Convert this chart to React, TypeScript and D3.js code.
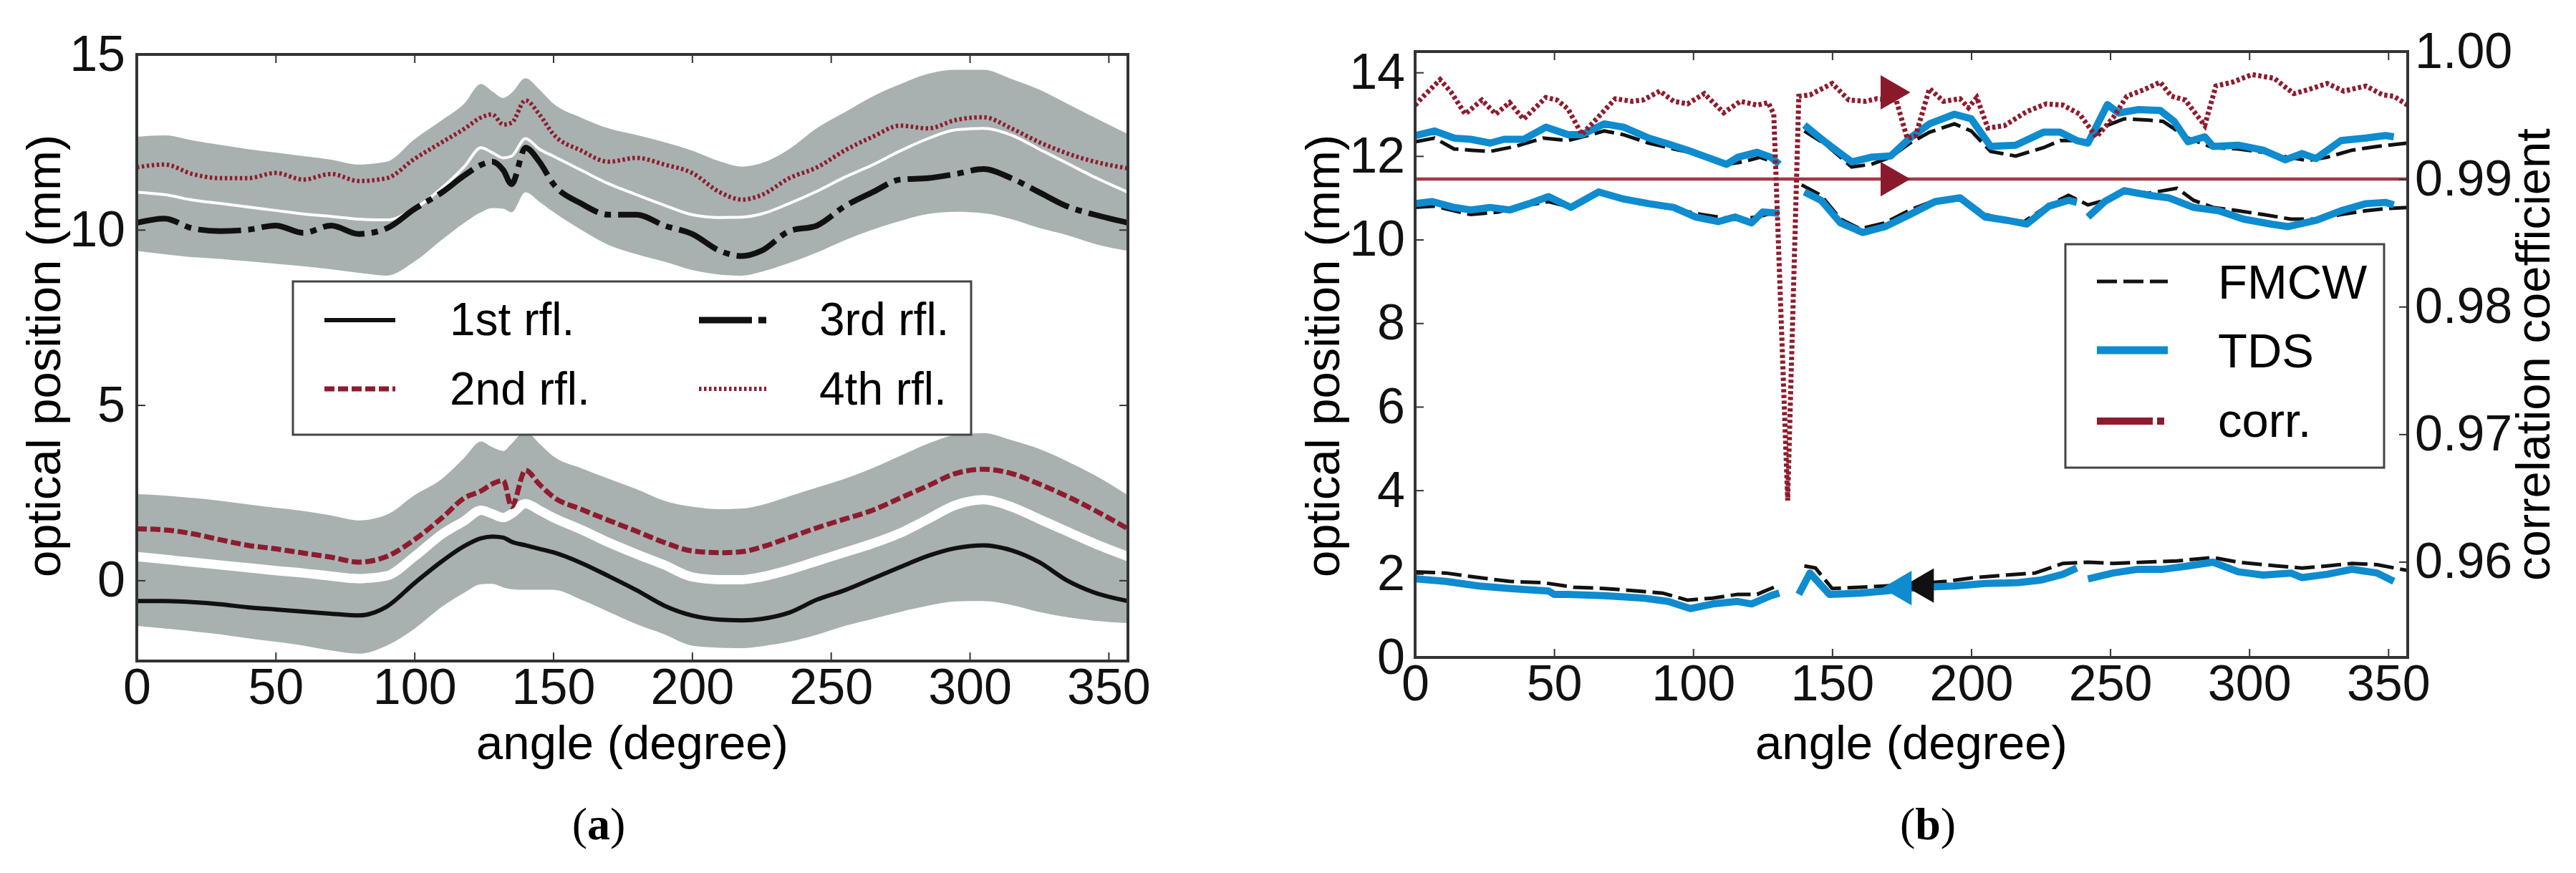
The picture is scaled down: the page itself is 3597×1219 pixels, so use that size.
import { useEffect, useRef } from "react";
import * as d3 from "d3";

// ---------- panel (a): reflections vs angle ----------
const anglesA = [0, 10, 20, 30, 40, 50, 60, 70, 80, 90, 100, 110, 118, 124, 128, 132, 135, 140, 145, 150, 160, 170, 180, 190, 200, 210, 218, 225, 235, 245, 255, 265, 275, 285, 295, 305, 315, 325, 335, 345, 357];
const rfl1 = [-0.59, -0.59, -0.62, -0.68, -0.77, -0.83, -0.89, -0.95, -1.0, -0.75, -0.08, 0.55, 0.98, 1.2, 1.25, 1.22, 1.1, 1.0, 0.9, 0.8, 0.5, 0.12, -0.28, -0.72, -1.0, -1.12, -1.14, -1.1, -0.92, -0.55, -0.28, 0.05, 0.38, 0.7, 0.92, 1.0, 0.86, 0.52, 0.0, -0.35, -0.59];
const rfl2 = [1.47, 1.44, 1.33, 1.16, 1.0, 0.9, 0.78, 0.66, 0.52, 0.68, 1.16, 1.79, 2.35, 2.55, 2.75, 2.85, 2.1, 3.14, 2.74, 2.38, 2.03, 1.71, 1.4, 1.08, 0.84, 0.79, 0.82, 0.95, 1.22, 1.5, 1.75, 2.0, 2.35, 2.7, 3.05, 3.17, 3.05, 2.75, 2.4, 2.0, 1.47];
const rfl3 = [10.2, 10.32, 10.04, 9.96, 10.0, 10.12, 9.91, 10.12, 9.88, 10.04, 10.59, 11.07, 11.55, 11.85, 11.94, 11.7, 11.3, 12.34, 11.94, 11.31, 10.75, 10.43, 10.43, 10.12, 9.88, 9.4, 9.25, 9.4, 9.96, 10.12, 10.67, 11.07, 11.43, 11.47, 11.59, 11.73, 11.47, 11.07, 10.67, 10.43, 10.2];
const rfl4 = [11.78, 11.86, 11.59, 11.47, 11.47, 11.62, 11.43, 11.59, 11.39, 11.47, 12.02, 12.5, 12.88, 13.2, 13.29, 13.0, 13.05, 13.69, 13.29, 12.73, 12.26, 11.94, 12.05, 11.86, 11.62, 11.07, 10.86, 10.99, 11.47, 11.78, 12.26, 12.65, 12.97, 12.89, 13.13, 13.21, 12.89, 12.5, 12.18, 11.94, 11.75];

// grey envelopes and the white gap between the two bands of each group
const upperTop = [12.65, 12.69, 12.55, 12.42, 12.3, 12.2, 12.1, 12.0, 11.86, 11.94, 12.58, 13.13, 13.6, 14.16, 13.95, 13.76, 13.9, 14.32, 14.0, 13.6, 13.2, 12.89, 12.7, 12.5, 12.26, 11.95, 11.8, 11.9, 12.3, 12.9, 13.35, 13.8, 14.15, 14.45, 14.56, 14.56, 14.3, 14.0, 13.6, 13.2, 12.73];
const upperBottom = [9.4, 9.3, 9.22, 9.17, 9.1, 9.03, 8.96, 8.87, 8.77, 8.69, 9.09, 9.72, 10.2, 10.5, 10.62, 10.6, 10.5, 11.07, 10.8, 10.51, 10.0, 9.56, 9.3, 9.09, 8.85, 8.72, 8.69, 8.8, 9.05, 9.35, 9.7, 10.0, 10.25, 10.45, 10.51, 10.47, 10.3, 10.05, 9.85, 9.6, 9.4];
const upperGap = [11.07, 11.0, 10.85, 10.75, 10.65, 10.55, 10.45, 10.38, 10.3, 10.28, 10.6, 11.2, 11.8, 12.34, 12.2, 12.05, 12.1, 12.6, 12.3, 12.1, 11.7, 11.31, 11.0, 10.7, 10.43, 10.35, 10.36, 10.45, 10.75, 11.1, 11.5, 11.85, 12.25, 12.6, 12.85, 12.89, 12.7, 12.3, 11.9, 11.5, 11.07];
const lowerTop = [2.46, 2.42, 2.35, 2.27, 2.17, 2.07, 1.98, 1.85, 1.71, 1.87, 2.43, 2.9, 3.5, 3.96, 3.8, 3.69, 3.9, 4.25, 3.9, 3.54, 3.2, 2.9, 2.6, 2.27, 2.1, 2.03, 2.05, 2.15, 2.4, 2.65, 2.9, 3.2, 3.55, 3.9, 4.15, 4.2, 4.0, 3.75, 3.4, 3.0, 2.43];
const lowerBottom = [-1.3, -1.37, -1.45, -1.54, -1.65, -1.75, -1.86, -2.0, -2.09, -1.86, -1.38, -0.75, -0.35, -0.11, -0.1, -0.2, -0.25, -0.27, -0.27, -0.27, -0.55, -0.9, -1.25, -1.54, -1.86, -1.92, -1.93, -1.88, -1.75, -1.55, -1.3, -1.1, -0.9, -0.72, -0.6, -0.59, -0.7, -0.9, -1.05, -1.15, -1.22];
const lowerGap = [0.68, 0.6, 0.52, 0.44, 0.36, 0.28, 0.21, 0.12, 0.05, 0.13, 0.68, 1.32, 1.7, 2.0, 1.9, 1.79, 1.9, 2.19, 2.0, 1.79, 1.45, 1.08, 0.75, 0.44, 0.1, 0.02, 0.02, 0.1, 0.3, 0.55, 0.8, 1.05, 1.35, 1.75, 2.15, 2.3, 2.1, 1.75, 1.4, 1.05, 0.68];

const legendA = ["1st rfl.", "2nd rfl.", "3rd rfl.", "4th rfl."];

// ---------- panel (b): FMCW vs TDS, correlation ----------
// null marks a break in a line
const fmcwHiAngles = [0, 7, 14, 20, 27, 36, 46, 55, 62, 68, 75, 84, 93, 103, 112, 118, 124, 130, null, 140, 148, 157, 164, 171, 178, 185, 194, 200, 207, 216, 226, 232, 242, 248, 255, 264, 269, 278, 287, 296, 305, 314, 321, 328, 337, 346, 357];
const fmcwHi = [12.34, 12.43, 12.17, 12.14, 12.11, 12.23, 12.43, 12.37, 12.49, 12.6, 12.51, 12.31, 12.17, 12.03, 11.8, 11.86, 11.97, 11.83, null, 12.6, 12.26, 11.74, 11.8, 11.97, 12.31, 12.57, 12.77, 12.6, 12.11, 12.0, 12.2, 12.37, 12.37, 12.71, 12.89, 12.86, 12.83, 12.43, 12.2, 12.17, 12.09, 11.97, 11.89, 11.97, 12.14, 12.23, 12.31];
const tdsHiAngles = [0, 7, 14, 20, 27, 32, 39, 47, 55, 60, 68, 75, 84, 91, 98, 105, 112, 116, 123, 128, 131, null, 140, 148, 157, 164, 171, 178, 185, 194, 200, 207, 216, 226, 232, 238, 242, 249, 253, 260, 268, 273, 278, 284, 287, 296, 305, 313, 319, 324, 333, 342, 349, 352];
const tdsHi = [12.49, 12.6, 12.43, 12.4, 12.31, 12.4, 12.4, 12.69, 12.51, 12.51, 12.77, 12.69, 12.43, 12.29, 12.14, 11.97, 11.8, 11.97, 12.09, 11.97, 11.8, null, 12.74, 12.31, 11.86, 11.97, 12.0, 12.43, 12.77, 13.0, 12.89, 12.23, 12.26, 12.57, 12.57, 12.37, 12.31, 13.23, 13.03, 13.11, 13.09, 12.83, 12.34, 12.46, 12.23, 12.26, 12.14, 11.91, 12.06, 11.94, 12.37, 12.43, 12.49, 12.46];
const fmcwMidAngles = [0, 7, 14, 20, 30, 36, 48, 56, 66, 75, 84, 93, 103, 109, 116, 123, 130, null, 139, 146, 153, 160, 169, 178, 187, 196, 205, 212, 219, 228, 235, 242, 248, 255, 264, 274, 280, 287, 296, 305, 315, 324, 333, 342, 349, 357];
const fmcwMid = [10.77, 10.8, 10.69, 10.6, 10.66, 10.77, 10.91, 10.77, 11.11, 10.94, 10.83, 10.74, 10.6, 10.54, 10.49, 10.54, 10.66, null, 11.31, 11.06, 10.49, 10.26, 10.4, 10.71, 10.94, 11.03, 10.6, 10.49, 10.43, 10.83, 11.06, 10.83, 10.94, 11.17, 11.11, 11.23, 10.94, 10.77, 10.69, 10.6, 10.49, 10.49, 10.6, 10.69, 10.74, 10.77];
const tdsMidAngles = [0, 6, 14, 20, 27, 34, 41, 48, 56, 66, 75, 84, 93, 101, 109, 115, 121, 125, 131, null, 140, 146, 153, 161, 169, 178, 187, 196, 205, 213, 220, 228, 235, 238, null, 242, 248, 255, 264, 271, 280, 289, 298, 308, 314, 324, 333, 342, 349, 352];
const tdsMid = [10.86, 10.91, 10.77, 10.71, 10.77, 10.71, 10.86, 11.03, 10.77, 11.14, 10.97, 10.86, 10.77, 10.54, 10.43, 10.54, 10.4, 10.66, 10.63, null, 11.14, 10.94, 10.4, 10.17, 10.31, 10.6, 10.91, 11.0, 10.54, 10.46, 10.37, 10.8, 10.94, 10.89, null, 10.54, 10.91, 11.17, 11.06, 11.0, 10.77, 10.69, 10.49, 10.37, 10.31, 10.46, 10.69, 10.86, 10.89, 10.83];
const fmcwLoAngles = [0, 11, 23, 34, 46, 57, 68, 80, 89, 98, 107, 116, 123, 129, null, 140, 144, 150, 160, 169, 182, 191, 201, 212, 223, 233, 242, 251, 262, 274, 287, 296, 310, 319, 328, 337, 346, 357];
const fmcwLo = [2.05, 2.02, 1.91, 1.82, 1.79, 1.68, 1.65, 1.59, 1.54, 1.37, 1.42, 1.51, 1.51, 1.68, null, 2.19, 2.14, 1.65, 1.68, 1.71, 1.77, 1.82, 1.91, 1.97, 2.02, 2.25, 2.28, 2.25, 2.28, 2.31, 2.39, 2.28, 2.19, 2.14, 2.19, 2.25, 2.22, 2.08];
const tdsLoAngles = [0, 11, 23, 34, 48, 50, 55, 68, 82, 91, 99, 107, 116, 121, 128, 131, null, 138, 142, 149, 160, 169, 182, 194, 205, 217, 225, 233, 238, null, 242, 251, 260, 269, 278, 287, 296, 305, 315, 319, 328, 337, 346, 352];
const tdsLo = [1.88, 1.82, 1.71, 1.65, 1.59, 1.51, 1.51, 1.48, 1.42, 1.34, 1.17, 1.28, 1.34, 1.28, 1.48, 1.54, null, 1.51, 2.02, 1.51, 1.54, 1.59, 1.68, 1.71, 1.77, 1.79, 1.85, 1.99, 2.14, null, 1.88, 2.02, 2.11, 2.11, 2.19, 2.28, 2.05, 1.97, 2.02, 1.91, 1.99, 2.11, 2.02, 1.82];
const corrAngles = [0, 3, 9, 13, 18, 24, 29, 34, 39, 47, 51, 55, 60, 66, 72, 78, 82, 88, 93, 98, 104, 111, 117, 123, 127, 129, 134, 138, 142, 150, 156, 162, 166, 173, 177, 180, 185, 190, 196, 199, 202, 206, 212, 220, 227, 233, 239, 245, 251, 256, 262, 268, 272, 277, 284, 288, 294, 301, 309, 316, 321, 328, 334, 342, 348, 352, 357];
const corr = [0.9958, 0.9965, 0.9978, 0.9968, 0.9951, 0.9962, 0.9951, 0.996, 0.9947, 0.9964, 0.9962, 0.9955, 0.9935, 0.9949, 0.9963, 0.9961, 0.9962, 0.9969, 0.9961, 0.9959, 0.9967, 0.9952, 0.9961, 0.9958, 0.996, 0.9951, 0.9648, 0.9965, 0.9966, 0.9975, 0.9962, 0.9961, 0.9963, 0.9962, 0.9932, 0.9934, 0.9971, 0.9961, 0.9963, 0.9956, 0.9964, 0.994, 0.9942, 0.9953, 0.9959, 0.9958, 0.9951, 0.9933, 0.9948, 0.9965, 0.997, 0.9976, 0.9965, 0.9962, 0.9942, 0.9973, 0.9976, 0.9982, 0.9979, 0.9967, 0.997, 0.9975, 0.9969, 0.9973, 0.9966, 0.9965, 0.9958];
const corrRef = 0.99;
const corrMarkerAngles = [171, 171];
const corrMarkerValues = [0.9968, 0.99];
const fmcwMarker = [183, 1.72];
const tdsMarker = [175, 1.66];

const legendB = ["FMCW", "TDS", "corr."];

const xTicks = [0, 50, 100, 150, 200, 250, 300, 350];
const yTicksA = [0, 5, 10, 15];
const yTicksB = [0, 2, 4, 6, 8, 10, 12, 14];
const corrTicks = [0.96, 0.97, 0.98, 0.99, 1.0];

const FONT = "'Liberation Sans', Arial, Helvetica, sans-serif";
const RED = "#8e1c2e";
const BLUE = "#0f8bcf";
const GREY = "#a8b1b0";
const INK = "#333";

type Sel = d3.Selection<SVGGElement, unknown, null, undefined>;

function styleAxis(ax: Sel, fontSize: number) {
  ax.select(".domain").remove();
  ax.selectAll(".tick line").attr("stroke", INK).attr("stroke-width", 2);
  ax.selectAll(".tick text")
    .attr("fill", "#111")
    .style("font-family", FONT)
    .style("font-size", `${fontSize}px`);
}

function zipPts(angles: (number | null)[], values: (number | null)[]) {
  return angles.map((a, i) => ({ a, v: values[i] }));
}

export default function App() {
  const svgRef = useRef<SVGSVGElement | null>(null);

  useEffect(() => {
    const svg = d3.select(svgRef.current);
    svg.selectAll("*").remove();

    // ================= panel (a) =================
    const xA = d3.scaleLinear().domain([0, 357]).range([191, 1575]);
    const yA = d3.scaleLinear().domain([-2.3, 15]).range([923, 76]);

    svg.append("clipPath").attr("id", "clipA")
      .append("rect").attr("x", 191).attr("y", 76).attr("width", 1384).attr("height", 847);

    const gA = svg.append("g").attr("clip-path", "url(#clipA)");

    const band = (lo: number[], hi: number[]) =>
      d3.area<number>()
        .x((a) => xA(a))
        .y0((_, i) => yA(lo[i]))
        .y1((_, i) => yA(hi[i]))
        .curve(d3.curveMonotoneX)(anglesA);

    const lineA = (vals: number[]) =>
      d3.line<number>()
        .x((a) => xA(a))
        .y((_, i) => yA(vals[i]))
        .curve(d3.curveMonotoneX)(anglesA);

    gA.append("path").attr("d", band(upperBottom, upperTop)).attr("fill", GREY);
    gA.append("path").attr("d", band(lowerBottom, lowerTop)).attr("fill", GREY);
    gA.append("path").attr("d", lineA(upperGap)).attr("fill", "none").attr("stroke", "#fff").attr("stroke-width", 4);
    gA.append("path").attr("d", lineA(lowerGap)).attr("fill", "none").attr("stroke", "#fff").attr("stroke-width", 13);

    const stylesA = [
      { vals: rfl1, color: "#111", width: 6, dash: null },
      { vals: rfl2, color: RED, width: 7, dash: "14,5" },
      { vals: rfl3, color: "#111", width: 8, dash: "60,10,9,10" },
      { vals: rfl4, color: RED, width: 6, dash: "3.5,3.5" },
    ];
    stylesA.forEach((s) => {
      gA.append("path")
        .attr("d", lineA(s.vals))
        .attr("fill", "none")
        .attr("stroke", s.color)
        .attr("stroke-width", s.width)
        .attr("stroke-dasharray", s.dash);
    });

    // legend (a)
    const lgA = svg.append("g");
    lgA.append("rect").attr("x", 409).attr("y", 393).attr("width", 947).attr("height", 214)
      .attr("fill", "#fff").attr("stroke", "#444").attr("stroke-width", 3);
    const legPosA = [
      { x0: 453, x1: 552, y: 447, tx: 628, ty: 468 },
      { x0: 453, x1: 552, y: 543, tx: 628, ty: 565 },
      { x0: 976, x1: 1070, y: 447, tx: 1144, ty: 468 },
      { x0: 976, x1: 1070, y: 543, tx: 1144, ty: 565 },
    ];
    const legDashA = [null, "14,5", "74,9,11,100", "3.5,3.5"];
    legendA.forEach((label, i) => {
      const p = legPosA[i];
      lgA.append("line").attr("x1", p.x0).attr("x2", p.x1).attr("y1", p.y).attr("y2", p.y)
        .attr("stroke", stylesA[i].color).attr("stroke-width", i === 2 ? 9 : stylesA[i].width)
        .attr("stroke-dasharray", legDashA[i]);
      lgA.append("text").attr("x", p.tx).attr("y", p.ty).text(label)
        .style("font-family", FONT).style("font-size", "64px").attr("fill", "#000");
    });

    // axes (a)
    const bA = svg.append("g").attr("transform", "translate(0,923)")
      .call(d3.axisBottom(xA).tickValues(xTicks).tickSize(-12).tickPadding(10).tickFormat(d3.format("d")));
    styleAxis(bA, 70);
    const tA = svg.append("g").attr("transform", "translate(0,76)")
      .call(d3.axisTop(xA).tickValues(xTicks).tickSize(-12).tickFormat(() => ""));
    styleAxis(tA, 70);
    const lA = svg.append("g").attr("transform", "translate(191,0)")
      .call(d3.axisLeft(yA).tickValues(yTicksA).tickSize(-12).tickPadding(16).tickFormat(d3.format("d")));
    styleAxis(lA, 70);
    const rA = svg.append("g").attr("transform", "translate(1575,0)")
      .call(d3.axisRight(yA).tickValues(yTicksA).tickSize(-12).tickFormat(() => ""));
    styleAxis(rA, 70);
    svg.append("rect").attr("x", 191).attr("y", 76).attr("width", 1384).attr("height", 847)
      .attr("fill", "none").attr("stroke", INK).attr("stroke-width", 4);

    // ================= panel (b) =================
    const xB = d3.scaleLinear().domain([0, 357]).range([1976, 3362]);
    const yB = d3.scaleLinear().domain([0, 14.5]).range([918, 72]);
    const cB = d3.scaleLinear().domain([0.9525, 1.0]).range([918, 72]);

    svg.append("clipPath").attr("id", "clipB")
      .append("rect").attr("x", 1976).attr("y", 72).attr("width", 1386).attr("height", 846);
    const gB = svg.append("g").attr("clip-path", "url(#clipB)");

    type P = { a: number | null; v: number | null };
    const lineB = (scale: d3.ScaleLinear<number, number>) =>
      d3.line<P>()
        .defined((d) => d.a !== null && d.v !== null)
        .x((d) => xB(d.a as number))
        .y((d) => scale(d.v as number));

    const fmcwSets = [zipPts(fmcwHiAngles, fmcwHi), zipPts(fmcwMidAngles, fmcwMid), zipPts(fmcwLoAngles, fmcwLo)];
    const tdsSets = [zipPts(tdsHiAngles, tdsHi), zipPts(tdsMidAngles, tdsMid), zipPts(tdsLoAngles, tdsLo)];

    fmcwSets.forEach((pts) => {
      gB.append("path").attr("d", lineB(yB)(pts)).attr("fill", "none")
        .attr("stroke", "#111").attr("stroke-width", 5).attr("stroke-dasharray", "28,9");
    });
    tdsSets.forEach((pts) => {
      gB.append("path").attr("d", lineB(yB)(pts)).attr("fill", "none")
        .attr("stroke", BLUE).attr("stroke-width", 10).attr("stroke-linejoin", "round");
    });

    // reference line and correlation on the right axis
    gB.append("line").attr("x1", xB(0)).attr("x2", xB(357)).attr("y1", cB(corrRef)).attr("y2", cB(corrRef))
      .attr("stroke", "#a33a47").attr("stroke-width", 4.5);
    gB.append("path").attr("d", lineB(cB)(zipPts(corrAngles, corr))).attr("fill", "none")
      .attr("stroke", RED).attr("stroke-width", 7).attr("stroke-dasharray", "4.5,3.5");

    // axis-pointer markers
    const tri = d3.symbol().type(d3.symbolTriangle).size(1000);
    gB.append("path").attr("d", tri()).attr("fill", "#111")
      .attr("transform", `translate(${xB(fmcwMarker[0])},${yB(fmcwMarker[1])}) rotate(-90)`);
    gB.append("path").attr("d", tri()).attr("fill", BLUE)
      .attr("transform", `translate(${xB(tdsMarker[0])},${yB(tdsMarker[1])}) rotate(-90)`);
    corrMarkerAngles.forEach((a, i) => {
      gB.append("path").attr("d", tri()).attr("fill", "#8a1a2b")
        .attr("transform", `translate(${xB(a)},${cB(corrMarkerValues[i])}) rotate(90)`);
    });

    // legend (b)
    const lgB = svg.append("g");
    lgB.append("rect").attr("x", 2884).attr("y", 341).attr("width", 445).attr("height", 312)
      .attr("fill", "#fff").attr("stroke", "#444").attr("stroke-width", 3);
    const legStyleB = [
      { color: "#111", width: 5, dash: "28,9", y: 393, ty: 417 },
      { color: BLUE, width: 11, dash: null, y: 489, ty: 513 },
      { color: RED, width: 10, dash: "78,6,10,100", y: 588, ty: 610 },
    ];
    legendB.forEach((label, i) => {
      const s = legStyleB[i];
      lgB.append("line").attr("x1", 2928).attr("x2", 3027).attr("y1", s.y).attr("y2", s.y)
        .attr("stroke", s.color).attr("stroke-width", s.width).attr("stroke-dasharray", s.dash);
      lgB.append("text").attr("x", 3097).attr("y", s.ty).text(label)
        .style("font-family", FONT).style("font-size", "67px").attr("fill", "#000");
    });

    // axes (b)
    const bB = svg.append("g").attr("transform", "translate(0,918)")
      .call(d3.axisBottom(xB).tickValues(xTicks).tickSize(-12).tickPadding(10).tickFormat(d3.format("d")));
    styleAxis(bB, 70);
    const tB = svg.append("g").attr("transform", "translate(0,72)")
      .call(d3.axisTop(xB).tickValues(xTicks).tickSize(-12).tickFormat(() => ""));
    styleAxis(tB, 70);
    const lB = svg.append("g").attr("transform", "translate(1976,0)")
      .call(d3.axisLeft(yB).tickValues(yTicksB).tickSize(-12).tickPadding(14).tickFormat(d3.format("d")));
    styleAxis(lB, 70);
    const rB = svg.append("g").attr("transform", "translate(3362,0)")
      .call(d3.axisRight(cB).tickValues(corrTicks).tickSize(-12).tickPadding(10).tickFormat(d3.format(".2f")));
    styleAxis(rB, 70);
    svg.append("rect").attr("x", 1976).attr("y", 72).attr("width", 1386).attr("height", 846)
      .attr("fill", "none").attr("stroke", INK).attr("stroke-width", 4);

    // ================= titles =================
    const label = (x: number, y: number, txt: string, rot = 0) =>
      svg.append("text")
        .attr("transform", `translate(${x},${y}) rotate(${rot})`)
        .attr("text-anchor", "middle")
        .style("font-family", FONT)
        .style("font-size", "67px")
        .attr("fill", "#000")
        .text(txt);

    label(883, 1060, "angle (degree)");
    label(2669, 1060, "angle (degree)");
    label(84, 497, "optical position (mm)", -90);
    label(1870, 497, "optical position (mm)", -90);
    label(3560, 495, "correlation coefficient", -90);

    [["a", 836], ["b", 2692]].forEach(([ch, x]) => {
      const t = svg.append("text").attr("x", x as number).attr("y", 1172).attr("text-anchor", "middle")
        .style("font-family", "'Liberation Serif', 'Times New Roman', serif").style("font-size", "64px")
        .attr("fill", "#000");
      t.append("tspan").text("(");
      t.append("tspan").attr("font-weight", "bold").text(ch as string);
      t.append("tspan").text(")");
    });
  }, []);

  return (
    <svg
      ref={svgRef}
      width={3597}
      height={1219}
      style={{ position: "absolute", left: 0, top: 0, background: "#fff" }}
    />
  );
}
